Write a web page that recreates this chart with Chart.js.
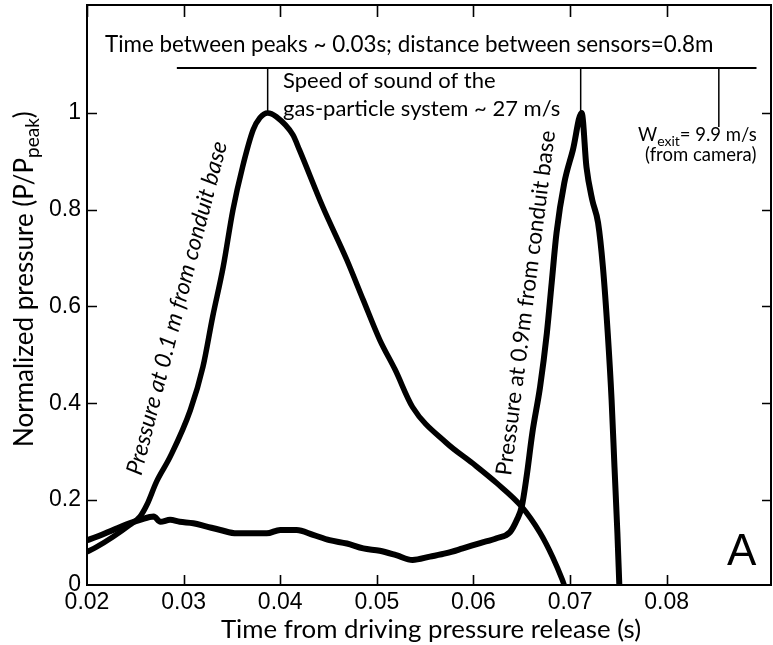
<!DOCTYPE html>
<html>
<head>
<meta charset="utf-8">
<script src="https://cdn.jsdelivr.net/npm/chart.js@4.4.1/dist/chart.umd.min.js"></script>
<style>
  html, body { margin: 0; padding: 0; background: #fff; }
  #wrap { width: 773px; height: 645px; }
</style>
</head>
<body>
<div id="wrap"><canvas id="c"></canvas></div>
<script>
// Normalized pressure at two sensors vs time after driving pressure release.
const xTicks = [0.02, 0.03, 0.04, 0.05, 0.06, 0.07, 0.08];
const yTicks = [0.0243, 0.2, 0.4, 0.6, 0.8, 1];
const yTickLabels = ['0', '0.2', '0.4', '0.6', '0.8', '1'];

// sensor at 0.1 m from conduit base
const t1 = [0.0200, 0.0210, 0.0227, 0.0244, 0.0255, 0.0262, 0.0272, 0.0286, 0.0307, 0.0320, 0.0330, 0.0341,
  0.0351, 0.0361, 0.0372, 0.0379, 0.0387, 0.0396, 0.0413, 0.0420, 0.0444, 0.0469, 0.0486, 0.0503, 0.0519, 0.0537,
  0.0572, 0.0599, 0.0624, 0.0650, 0.0669, 0.0682, 0.0692, 0.0694];
const p1 = [0.093, 0.103, 0.124, 0.148, 0.166, 0.190, 0.238, 0.289, 0.386, 0.475, 0.578, 0.682,
  0.799, 0.888, 0.965, 0.990, 1.000, 0.992, 0.955, 0.923, 0.806, 0.696, 0.613, 0.531, 0.469, 0.392,
  0.318, 0.276, 0.235, 0.186, 0.132, 0.082, 0.035, 0.024];

// sensor at 0.9 m from conduit base
const t2 = [0.0200, 0.0210, 0.0227, 0.0244, 0.0255, 0.0269, 0.0276, 0.0286, 0.0296, 0.0310, 0.0324, 0.0338,
  0.0355, 0.0372, 0.0386, 0.0400, 0.0417, 0.0434, 0.0451, 0.0469, 0.0486, 0.0503, 0.0520, 0.0537, 0.0555,
  0.0572, 0.0589, 0.0607, 0.0624, 0.0638, 0.0645, 0.0650, 0.0655, 0.0661, 0.0669, 0.0676, 0.0681, 0.0686,
  0.0694, 0.0703, 0.0712, 0.0717, 0.0723, 0.0729, 0.0734, 0.0739, 0.0743, 0.0746, 0.0749, 0.0751];
const p2 = [0.117, 0.124, 0.138, 0.152, 0.159, 0.166, 0.155, 0.159, 0.155, 0.152, 0.145, 0.138,
  0.131, 0.131, 0.131, 0.138, 0.138, 0.128, 0.117, 0.110, 0.100, 0.095, 0.086, 0.076, 0.083,
  0.090, 0.100, 0.111, 0.121, 0.134, 0.159, 0.186, 0.248, 0.339, 0.434, 0.545, 0.649, 0.752,
  0.855, 0.924, 1.000, 0.888, 0.820, 0.773, 0.682, 0.545, 0.407, 0.268, 0.132, 0.024];

// bracket between the two peaks and the camera exit speed
const bracketT = [0.0293, 0.0893];
const bracketP = [1.093, 1.093];
const peak1T = [0.0387, 0.0387];
const peak1P = [1.093, 1.0];
const peak2T = [0.0711, 0.0711];
const peak2P = [1.093, 1.0];
const exitT = [0.0854, 0.0854];
const exitP = [1.093, 0.971];

const pts = (xs, ys) => xs.map((x, i) => ({ x: x, y: ys[i] }));
const SANS = 'Lato, "Noto Sans", sans-serif';

const overlay = {
  id: 'overlay',
  afterDraw(chart) {
    const ctx = chart.ctx, a = chart.chartArea;
    const xs = chart.scales.x, ys = chart.scales.y;
    ctx.save();
    ctx.strokeStyle = '#000';
    ctx.fillStyle = '#000';
    ctx.lineWidth = 2;
    ctx.strokeRect(a.left, a.top, a.right - a.left, a.bottom - a.top);
    ctx.lineWidth = 1.6;
    ctx.beginPath();
    xTicks.forEach((v) => {
      const px = Math.round(xs.getPixelForValue(v)) + 0.5;
      if (v > xs.min) {
        ctx.moveTo(px, a.bottom); ctx.lineTo(px, a.bottom - 10);
      }
      ctx.moveTo(px, a.top); ctx.lineTo(px, a.top + 12);
    });
    yTicks.slice(1).forEach((v) => {
      const py = Math.round(ys.getPixelForValue(v)) + 0.5;
      ctx.moveTo(a.left, py); ctx.lineTo(a.left + 10, py);
      ctx.moveTo(a.right, py); ctx.lineTo(a.right - 9, py);
    });
    ctx.stroke();

    ctx.textBaseline = 'alphabetic';
    ctx.textAlign = 'left';
    ctx.font = '22.4px ' + SANS;
    ctx.fillText('Time between peaks ~ 0.03s; distance between sensors=0.8m', 105, 52);
    ctx.font = '22px ' + SANS;
    ctx.fillText('Speed of sound of the', 283, 88);
    ctx.fillText('gas-particle system ~ 27 m/s', 283, 116);

    // W_exit label with subscript
    ctx.font = '18.5px ' + SANS;
    let x = 638;
    ctx.fillText('W', x, 141); x += ctx.measureText('W').width;
    ctx.font = '14px ' + SANS;
    ctx.fillText('exit', x, 146); x += ctx.measureText('exit').width;
    ctx.font = '18.5px ' + SANS;
    ctx.fillText('= 9.9 m/s', x, 141);
    ctx.fillText('(from camera)', 645, 161);

    ctx.font = '44px "Liberation Sans", Arial, sans-serif';
    ctx.fillText('A', 727, 565);

    // axis titles
    ctx.font = '25.8px ' + SANS;
    ctx.textAlign = 'center';
    ctx.fillText('Time from driving pressure release (s)', 431, 638);

    ctx.save();
    ctx.translate(33, 447);
    ctx.rotate(-Math.PI / 2);
    ctx.textAlign = 'left';
    ctx.font = '26px ' + SANS;
    const main = 'Normalized pressure (P/P';
    ctx.fillText(main, 0, 0);
    let w = ctx.measureText(main).width;
    ctx.font = '19px ' + SANS;
    ctx.fillText('peak', w, 6);
    w += ctx.measureText('peak').width;
    ctx.font = '26px ' + SANS;
    ctx.fillText(')', w, 0);
    ctx.restore();

    // labels along the curves
    ctx.save();
    ctx.translate(177, 308);
    ctx.rotate(-75.5 * Math.PI / 180);
    ctx.font = 'italic 23px ' + SANS;
    ctx.textAlign = 'center';
    ctx.textBaseline = 'middle';
    ctx.fillText('Pressure at 0.1 m from conduit base', 0, 0);
    ctx.restore();

    ctx.save();
    ctx.translate(526, 303);
    ctx.rotate(-82.7 * Math.PI / 180);
    ctx.font = '22.4px ' + SANS;
    ctx.textAlign = 'center';
    ctx.textBaseline = 'middle';
    ctx.fillText('Pressure at 0.9m from conduit base', 0, 0);
    ctx.restore();

    ctx.restore();
  }
};

const thin = (data, w) => ({ data: data, borderColor: '#000', borderWidth: w, pointRadius: 0, showLine: true, tension: 0, clip: false });

new Chart(document.getElementById('c').getContext('2d'), {
  type: 'scatter',
  data: {
    datasets: [
      { data: pts(t1, p1), borderColor: '#000', borderWidth: 5.5, pointRadius: 0, showLine: true, cubicInterpolationMode: 'monotone', borderCapStyle: 'round', borderJoinStyle: 'round' },
      { data: pts(t2, p2), borderColor: '#000', borderWidth: 6, pointRadius: 0, showLine: true, cubicInterpolationMode: 'monotone', borderCapStyle: 'round', borderJoinStyle: 'round' },
      thin(pts(bracketT, bracketP), 2),
      thin(pts(peak1T, peak1P), 1.5),
      thin(pts(peak2T, peak2P), 1.5),
      thin(pts(exitT, exitP), 1.5),
    ],
  },
  options: {
    responsive: true, maintainAspectRatio: false, animation: false,
    layout: { padding: { top: 5, right: 2, left: 0, bottom: 0 } },
    plugins: { legend: { display: false }, tooltip: { enabled: false } },
    scales: {
      x: {
        type: 'linear', min: 0.02, max: 0.0908,
        afterBuildTicks: (s) => { s.ticks = xTicks.map((v) => ({ value: v })); },
        afterFit: (s) => { s.height = 60; s.paddingLeft = 0; s.paddingRight = 0; },
        ticks: { color: '#000', font: { family: '"Liberation Sans", Arial', size: 23 }, padding: 4, autoSkip: false, maxRotation: 0, callback: (v) => Number(v).toFixed(2) },
        grid: { display: false, drawTicks: false },
        border: { display: false },
      },
      y: {
        type: 'linear', min: 0.0243, max: 1.223,
        afterBuildTicks: (s) => { s.ticks = yTicks.map((v) => ({ value: v })); },
        afterFit: (s) => { s.width = 87; s.paddingTop = 0; s.paddingBottom = 0; },
        ticks: { color: '#000', font: { family: '"Liberation Sans", Arial', size: 23 }, padding: 6, autoSkip: false, callback: (v, i) => yTickLabels[i] },
        grid: { display: false, drawTicks: false },
        border: { display: false },
      },
    },
  },
  plugins: [overlay],
});
</script>
</body>
</html>
